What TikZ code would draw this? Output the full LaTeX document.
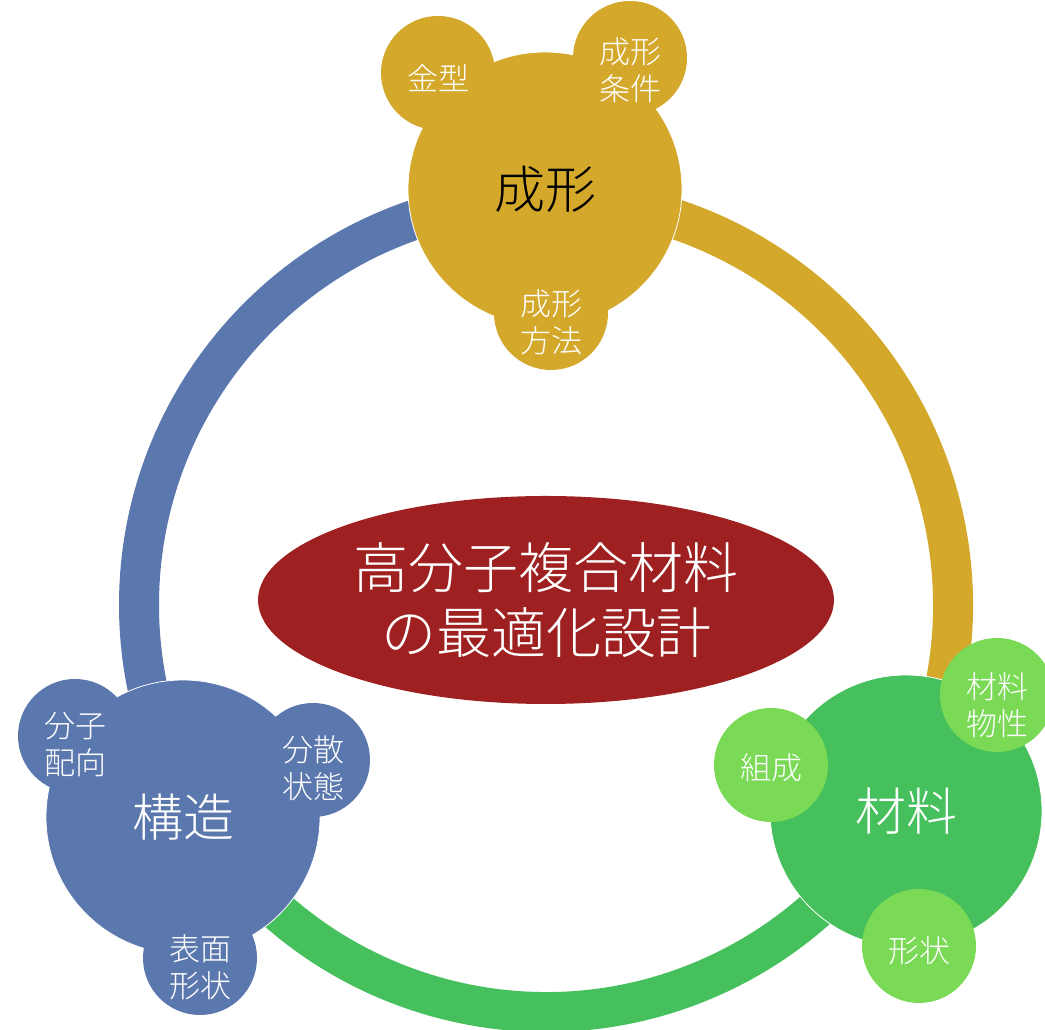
\documentclass[tikz,border=0pt]{standalone}
\usepackage{fontspec}
\setmainfont{Noto Sans CJK JP}[UprightFont={* Light}]
\usetikzlibrary{shapes.geometric}

\definecolor{gold}{RGB}{212,168,42}
\definecolor{steel}{RGB}{91,120,174}
\definecolor{leaf}{RGB}{69,192,92}
\definecolor{lime}{RGB}{122,218,86}
\definecolor{wine}{RGB}{158,32,32}

\begin{document}
\begin{tikzpicture}[x=1pt,y=1pt,
    ring/.style={line width=40pt},
    hub/.style={circle,minimum size=274pt,inner sep=0pt,draw=white,line width=0.8pt,
      font=\fontsize{51}{60}\selectfont},
    petal/.style={circle,minimum size=114pt,inner sep=0pt,align=center,text=white,
      font=\fontsize{31}{36}\selectfont}]
  \useasboundingbox (0,0) rectangle (1045,1030);
  \begin{scope}
    \def\rad{407}
    \coordinate (c) at (546,425);

    \foreach \a/\b/\col in {90/210/steel,-30/90/gold,210/330/leaf}
      \draw[ring,\col] (c) ++(\a:\rad) arc[start angle=\a,end angle=\b,radius=\rad];

    \node[hub,fill=gold] (seikei) at (545,841) {成形};
    \node[hub,fill=steel,text=white] (kozo) at (183,213) {構造};
    \node[hub,fill=leaf,text=white,minimum size=272pt] (zairyo) at (906,219) {材料};

    \foreach \nm/\x/\y/\dy/\col/\txt in {
        kanagata/438/957/-7/gold/金型,
        joken/630/972/-2/gold/{成形\\条件},
        hoho/551/717/4/gold/{成形\\方法},
        haiko/75/294/4/steel/{分子\\配向},
        bunsan/313/270/5/steel/{分散\\状態},
        hyomen/200/72/4/steel/{表面\\形状},
        bussei/997/335/2/lime/{材料\\物性},
        sosei/771/265/-2/lime/組成,
        keijo/919/84/-6/lime/形状}
      \node[petal,fill=\col,text depth=0pt] (\nm) at (\x,\y)
        {\raisebox{\dy pt}{\begin{tabular}{@{}c@{}}\txt\end{tabular}}};

    \node[ellipse,fill=wine,minimum width=576pt,minimum height=208pt,inner sep=0pt,
      text=white,align=center,font=\fontsize{55}{65}\selectfont] (title) at (546,430)
      {高分子複合材料\\の最適化設計};
  \end{scope}
\end{tikzpicture}
\end{document}
